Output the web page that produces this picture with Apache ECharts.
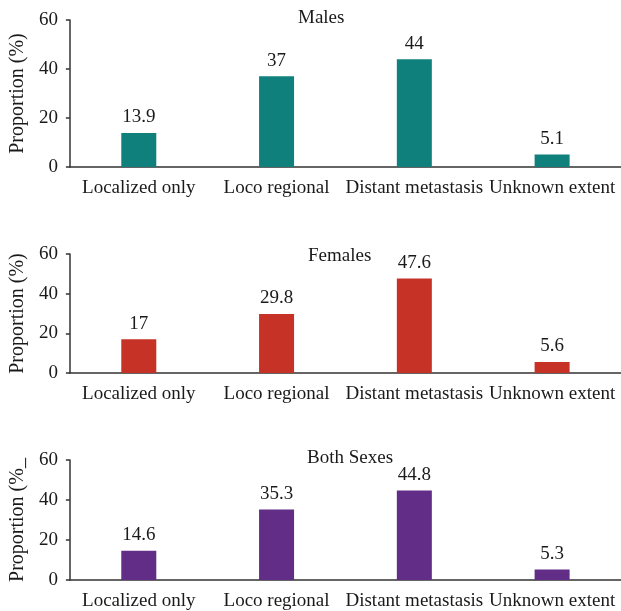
<!DOCTYPE html>
<html><head><meta charset="utf-8">
<script src="https://cdn.jsdelivr.net/npm/echarts@6/dist/echarts.min.js"></script>
<style>html,body{margin:0;padding:0;background:#fff}#c{width:621px;height:611px}</style>
</head><body><div id="c"></div>
<script>
var categories = ['Localized only', 'Loco regional', 'Distant metastasis', 'Unknown extent'];
var males = [13.9, 37, 44, 5.1];
var females = [17, 29.8, 47.6, 5.6];
var bothSexes = [14.6, 35.3, 44.8, 5.3];
var yTicks = [0, 20, 40, 60];
var panelTitles = ['Males', 'Females', 'Both Sexes'];
var yNames = ['Proportion (%)', 'Proportion (%)', 'Proportion (%_'];
var seriesData = [males, females, bothSexes];
var colors = ['#10807D', '#C63226', '#612D87'];

var FONT = "'Liberation Serif', 'Times New Roman', serif";
var TXT = '#1a1a1a';
var grids = [
  {left: 65, right: -4, top: 20, bottom: 444},
  {left: 65, right: -4, top: 254, bottom: 238},
  {left: 65, right: -4, top: 460, bottom: 30}
];
var titlePos = [{left: 298, top: 9}, {left: 308, top: 247}, {left: 307, top: 449}];

var option = {
  animation: false,
  backgroundColor: '#fff',
  title: panelTitles.map(function (t, i) {
    return {text: t, left: titlePos[i].left, top: titlePos[i].top, padding: 0,
      textStyle: {fontFamily: FONT, fontSize: 19, fontWeight: 'normal', color: TXT}};
  }),
  grid: grids,
  xAxis: grids.map(function (g, i) {
    return {type: 'category', gridIndex: i, data: categories,
      axisLine: {lineStyle: {color: '#333', width: 1.5}},
      axisTick: {show: false},
      axisLabel: {interval: 0, margin: 12, fontFamily: FONT, fontSize: 19, color: TXT, hideOverlap: false}};
  }),
  yAxis: grids.map(function (g, i) {
    return {type: 'value', gridIndex: i, min: yTicks[0], max: yTicks[yTicks.length - 1], interval: 20,
      name: yNames[i], nameLocation: 'middle', nameGap: 36,
      nameTextStyle: {fontFamily: FONT, fontSize: 20, color: TXT},
      axisLine: {show: true, lineStyle: {color: '#333', width: 1.5}},
      axisTick: {show: true, length: 4, lineStyle: {color: '#333', width: 1.5}},
      splitLine: {show: false},
      axisLabel: {margin: 12, fontFamily: FONT, fontSize: 19, color: TXT}};
  }),
  series: seriesData.map(function (d, i) {
    return {type: 'bar', xAxisIndex: i, yAxisIndex: i, data: d, barWidth: 35,
      itemStyle: {color: colors[i]},
      label: {show: true, position: 'top', distance: 6, fontFamily: FONT, fontSize: 19, color: TXT}};
  })
};
var chart = echarts.init(document.getElementById('c'), null, {renderer: 'canvas'});
chart.setOption(option);
</script></body></html>
